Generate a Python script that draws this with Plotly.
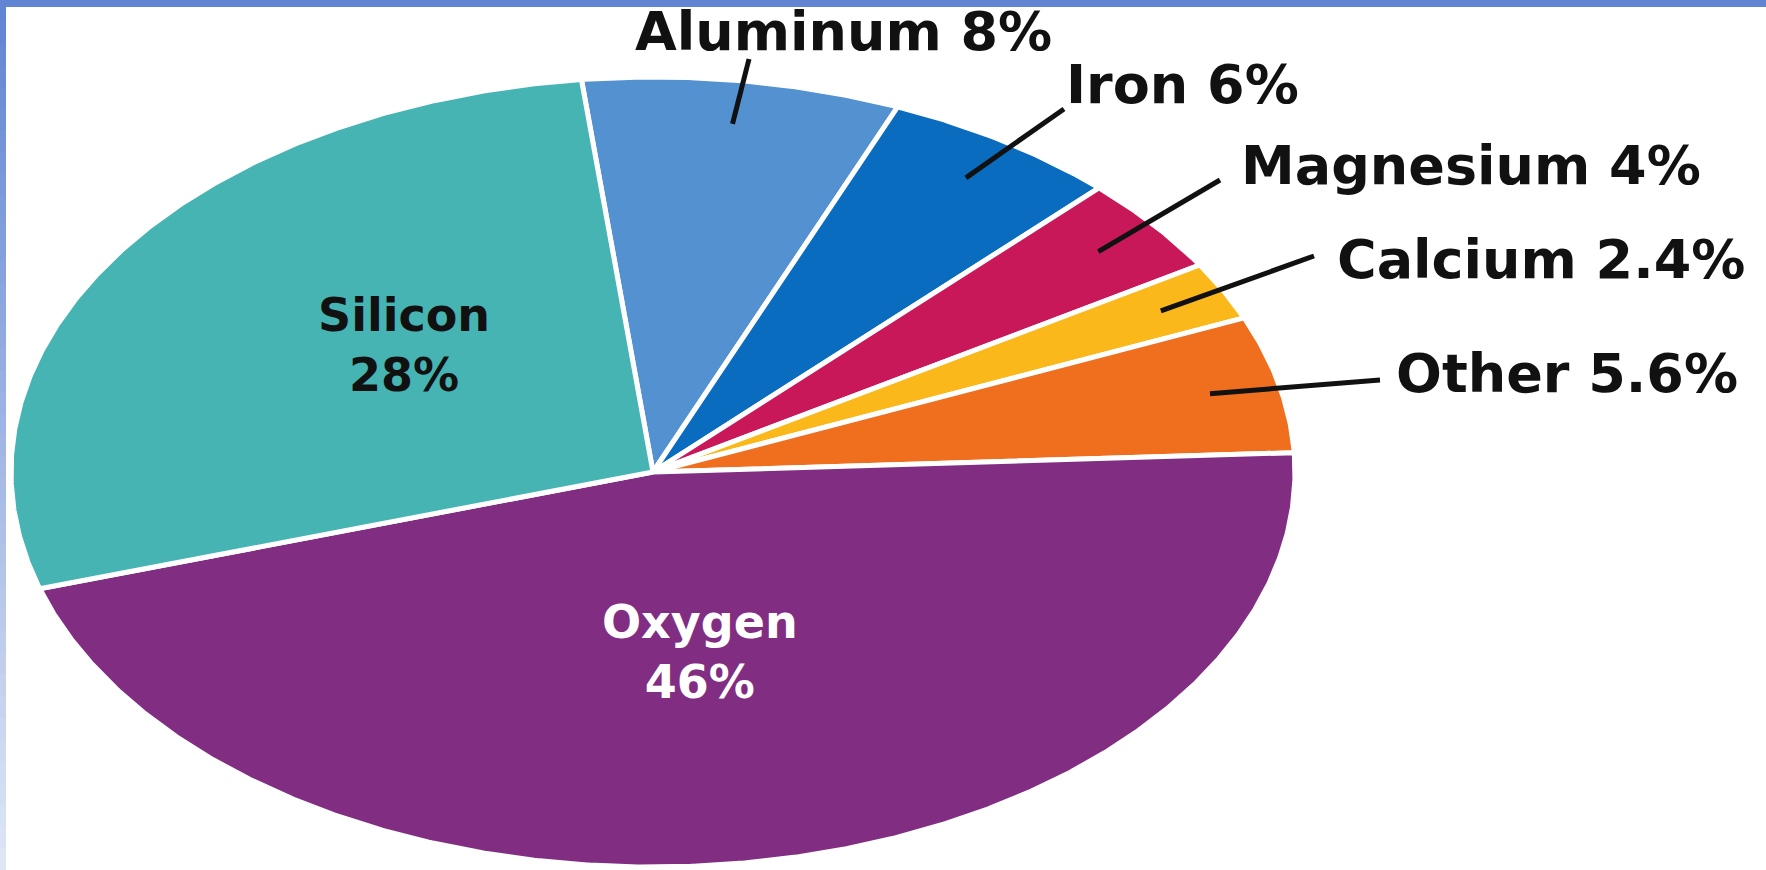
import numpy as np
import plotly.graph_objects as go

# ---- data ----
elements = ["Aluminum", "Iron", "Magnesium", "Calcium", "Other", "Oxygen", "Silicon"]
percent = [8, 6, 4, 2.4, 5.6, 46, 28]
pct_text = ["8%", "6%", "4%", "2.4%", "5.6%", "46%", "28%"]
colors = ["#5391d0", "#0a6cbf", "#c8185a", "#fbb81a", "#ef6f1f", "#812d82", "#47b4b4"]

# ---- layout / style parameters ----
W, H = 1766, 870
CX, CY, RX, RY = 653, 472, 642, 395   # ellipse geometry in pixels
START_DEG = 96.4                       # angle of first slice edge, slices run clockwise
LEADER_R = 0.89                        # where leader lines touch the slice
FONT = "DejaVu Sans"

# outside labels: (left x px, centre y px) and leader outer end (px)
outside_label_px = [(633, 31), (1064, 84), (1239, 165), (1335, 259), (1394, 373)]
leader_end_px = [(749, 59), (1064, 109), (1220, 180), (1314, 256), (1380, 380)]
# inside labels: centre of the two-line block (px)
inside_label_px = {"Silicon": (404, 345), "Oxygen": (700, 652)}
inside_color = {"Silicon": "#111111", "Oxygen": "#ffffff"}


def px2x(px):
    return (px - CX) / RX


def py2y(py):
    return (CY - py) / RY


fig = go.Figure()

total = float(sum(percent))
angle = START_DEG
mids = []
for name, v, c in zip(elements, percent, colors):
    span = 360.0 * v / total
    n = max(int(span * 4), 12)
    a = np.radians(np.linspace(angle, angle - span, n))
    xs = np.concatenate([[0.0], np.cos(a), [0.0]])
    ys = np.concatenate([[0.0], np.sin(a), [0.0]])
    fig.add_trace(go.Scatter(
        x=xs, y=ys, fill="toself", fillcolor=c, mode="lines",
        line=dict(color="white", width=5), hoverinfo="skip",
        showlegend=False, name=name,
    ))
    mids.append(angle - span / 2.0)
    angle -= span

# leader lines + outside labels (first five slices)
annotations = []
for i in range(5):
    m = np.radians(mids[i])
    x0, y0 = LEADER_R * np.cos(m), LEADER_R * np.sin(m)
    ex, ey = leader_end_px[i]
    fig.add_trace(go.Scatter(
        x=[x0, px2x(ex)], y=[y0, py2y(ey)], mode="lines",
        line=dict(color="#111111", width=5), hoverinfo="skip", showlegend=False,
    ))
    lx, ly = outside_label_px[i]
    annotations.append(dict(
        x=px2x(lx), y=py2y(ly), xref="x", yref="y", xanchor="left", yanchor="middle",
        text=f"{elements[i]} {pct_text[i]}", showarrow=False,
        font=dict(family=FONT, size=54, color="#111111", weight="bold"),
    ))

for i in (5, 6):
    name = elements[i]
    tx, ty = inside_label_px[name]
    annotations.append(dict(
        x=px2x(tx), y=py2y(ty), xref="x", yref="y", xanchor="center", yanchor="middle",
        text=f"{name}<br>{pct_text[i]}", showarrow=False, align="center",
        font=dict(family=FONT, size=46, color=inside_color[name], weight="bold"),
    ))

# decorative frame: blue strip on top, fading strip on the left
top_rgb = np.array([98, 133, 211])
bot_rgb = np.array([222, 230, 246])
nseg = 40
shapes = []
for k in range(nseg):
    t = k / (nseg - 1)
    col = top_rgb + (bot_rgb - top_rgb) * t
    shapes.append(dict(
        type="rect", xref="paper", yref="paper", x0=0, x1=6 / W,
        y0=max(0, 1 - (k + 1.5) / nseg), y1=1 - k / nseg,
        fillcolor="rgb(%d,%d,%d)" % tuple(col.astype(int)), line=dict(width=0), layer="above",
    ))
shapes.append(dict(type="rect", xref="paper", yref="paper", x0=0, x1=1, y0=1 - 7 / H, y1=1,
                   fillcolor="#6285d3", line=dict(width=0), layer="above"))

fig.update_layout(
    width=W, height=H, margin=dict(l=0, r=0, t=0, b=0),
    paper_bgcolor="white", plot_bgcolor="rgba(0,0,0,0)",
    xaxis=dict(range=[px2x(0), px2x(W)], visible=False, fixedrange=True),
    yaxis=dict(range=[py2y(H), py2y(0)], visible=False, fixedrange=True),
    annotations=annotations, shapes=shapes, showlegend=False,
)

fig.write_html("out.html", config={"displayModeBar": False})
